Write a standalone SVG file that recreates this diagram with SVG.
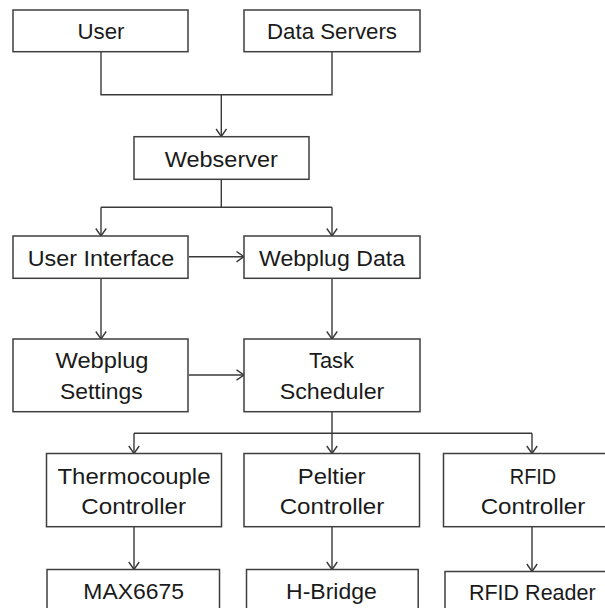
<svg xmlns="http://www.w3.org/2000/svg" width="605" height="608" viewBox="0 0 605 608">
<defs>
<marker id="arr" markerWidth="12" markerHeight="12" viewBox="0 0 12 12" refX="11" refY="6" orient="auto" markerUnits="userSpaceOnUse">
<path d="M3.5,0.8 L11,6 L3.5,11.2" fill="none" stroke="#3a3a3a" stroke-width="1.4"/>
</marker>
<style>
.box{fill:#ffffff;stroke:#3f3f3f;stroke-width:1.5}
.t{font-family:"Liberation Sans",Arial,sans-serif;font-size:22px;fill:#1a1a1a;text-anchor:middle}
.c{fill:none;stroke:#3a3a3a;stroke-width:1.4}
</style>
</defs>
<rect width="605" height="608" fill="#ffffff"/>
<g id="connectors">
<path class="c" d="M101,51.7 V94.7 H332 V51.7"/>
<path class="c" d="M221.3,94.7 V136.5" marker-end="url(#arr)"/>
<path class="c" d="M221.3,179.3 V207.3"/>
<path class="c" d="M101,207.3 H332"/>
<path class="c" d="M101,207.3 V236" marker-end="url(#arr)"/>
<path class="c" d="M332,207.3 V236" marker-end="url(#arr)"/>
<path class="c" d="M189,256.7 H244" marker-end="url(#arr)"/>
<path class="c" d="M101,278.3 V339" marker-end="url(#arr)"/>
<path class="c" d="M332,278.3 V339" marker-end="url(#arr)"/>
<path class="c" d="M189,375 H244" marker-end="url(#arr)"/>
<path class="c" d="M332,411.7 V433.3"/>
<path class="c" d="M134,433.3 H532"/>
<path class="c" d="M134,433.3 V453.5" marker-end="url(#arr)"/>
<path class="c" d="M332,433.3 V453.5" marker-end="url(#arr)"/>
<path class="c" d="M532,433.3 V453.5" marker-end="url(#arr)"/>
<path class="c" d="M134,526.7 V569.5" marker-end="url(#arr)"/>
<path class="c" d="M332,526.7 V569.5" marker-end="url(#arr)"/>
<path class="c" d="M532,526.7 V571.5" marker-end="url(#arr)"/>
</g>
<g id="user">
<rect class="box" x="13" y="10" width="175" height="41.7"/>
<text class="t" x="101" y="39.3" textLength="47" lengthAdjust="spacingAndGlyphs">User</text>
</g>
<g id="data-servers">
<rect class="box" x="244" y="10" width="176" height="41.7"/>
<text class="t" x="332" y="39.3" textLength="130" lengthAdjust="spacingAndGlyphs">Data Servers</text>
</g>
<g id="webserver">
<rect class="box" x="134" y="136.7" width="175" height="42.6"/>
<text class="t" x="221.3" y="166.7" textLength="113" lengthAdjust="spacingAndGlyphs">Webserver</text>
</g>
<g id="user-interface">
<rect class="box" x="13" y="236" width="175" height="42.3"/>
<text class="t" x="101" y="266" textLength="146.5" lengthAdjust="spacingAndGlyphs">User Interface</text>
</g>
<g id="webplug-data">
<rect class="box" x="244" y="236" width="176" height="42.3"/>
<text class="t" x="332" y="266" textLength="146" lengthAdjust="spacingAndGlyphs">Webplug Data</text>
</g>
<g id="webplug-settings">
<rect class="box" x="13" y="339" width="175" height="72.7"/>
<text class="t" x="102" y="368.3" textLength="93" lengthAdjust="spacingAndGlyphs">Webplug</text>
<text class="t" x="101.3" y="399" textLength="82.6" lengthAdjust="spacingAndGlyphs">Settings</text>
</g>
<g id="task-scheduler">
<rect class="box" x="244" y="339" width="176" height="72.7"/>
<text class="t" x="331.5" y="368.3" textLength="45" lengthAdjust="spacingAndGlyphs">Task</text>
<text class="t" x="332" y="399" textLength="104.7" lengthAdjust="spacingAndGlyphs">Scheduler</text>
</g>
<g id="thermocouple-controller">
<rect class="box" x="46.5" y="453.5" width="175" height="73.2"/>
<text class="t" x="134" y="483.5" textLength="153" lengthAdjust="spacingAndGlyphs">Thermocouple</text>
<text class="t" x="133.7" y="514" textLength="104.7" lengthAdjust="spacingAndGlyphs">Controller</text>
</g>
<g id="peltier-controller">
<rect class="box" x="244" y="453.5" width="175.5" height="73.2"/>
<text class="t" x="331.6" y="483.5" textLength="67.8" lengthAdjust="spacingAndGlyphs">Peltier</text>
<text class="t" x="332" y="514" textLength="104.7" lengthAdjust="spacingAndGlyphs">Controller</text>
</g>
<g id="rfid-controller">
<rect class="box" x="443.5" y="453.5" width="176" height="73.2"/>
<text class="t" x="533" y="483.5" textLength="46.5" lengthAdjust="spacingAndGlyphs">RFID</text>
<text class="t" x="533" y="514" textLength="104.7" lengthAdjust="spacingAndGlyphs">Controller</text>
</g>
<g id="max6675">
<rect class="box" x="47" y="569.5" width="172.5" height="50"/>
<text class="t" x="133.7" y="598.5" textLength="100.8" lengthAdjust="spacingAndGlyphs">MAX6675</text>
</g>
<g id="h-bridge">
<rect class="box" x="246.5" y="569.5" width="171.7" height="50"/>
<text class="t" x="331.4" y="598.5" textLength="90.7" lengthAdjust="spacingAndGlyphs">H-Bridge</text>
</g>
<g id="rfid-reader">
<rect class="box" x="445" y="571.5" width="176" height="50"/>
<text class="t" x="532.3" y="600" textLength="126.7" lengthAdjust="spacingAndGlyphs">RFID Reader</text>
</g>
</svg>
